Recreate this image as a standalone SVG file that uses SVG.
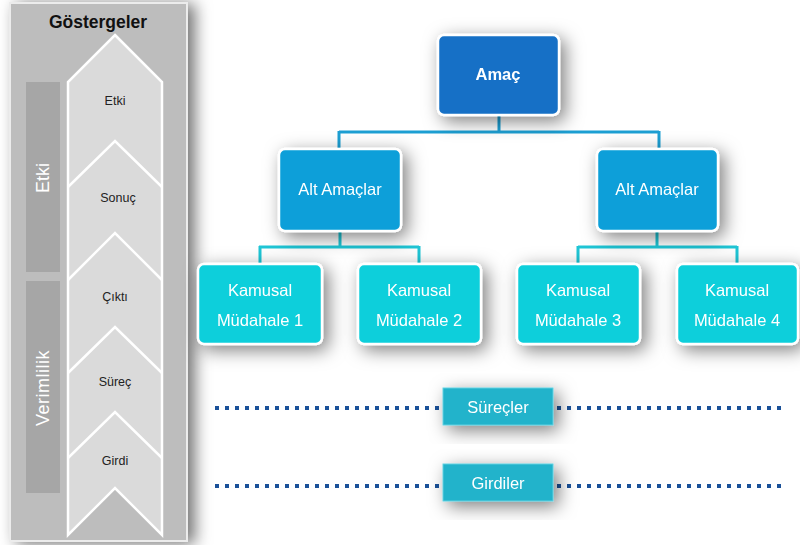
<svg xmlns="http://www.w3.org/2000/svg" width="800" height="545" viewBox="0 0 800 545">
<defs>
<filter id="sh" x="-40%" y="-40%" width="190%" height="190%">
<feDropShadow dx="5" dy="5" stdDeviation="9" flood-color="#000" flood-opacity="0.5"/>
</filter>
<filter id="psh" x="-20%" y="-5%" width="140%" height="110%">
<feDropShadow dx="7" dy="2" stdDeviation="8" flood-color="#000" flood-opacity="0.55"/>
</filter>
<style>
text{font-family:"Liberation Sans",Arial,sans-serif;}
.node rect{stroke:#fff;stroke-width:2.5;}
.lbl{fill:#fff;font-size:16.5px;text-anchor:middle;}
.chev{fill:#222;font-size:12.5px;text-anchor:middle;}
.dot{stroke:#1a5199;stroke-width:4;stroke-dasharray:4 6;fill:none;}
.c1{stroke:#1c9fd3;stroke-width:3;fill:none;}
.c2{stroke:#1ec6d6;stroke-width:3;fill:none;}
</style>
</defs>
<rect width="800" height="545" fill="#fff"/>
<g id="panel">
<rect x="10" y="3" width="177" height="538" fill="#bdbdbd" stroke="#ececec" stroke-width="2" filter="url(#psh)"/>
<text x="98" y="28" font-size="17.5" font-weight="bold" fill="#111" text-anchor="middle">Göstergeler</text>
<rect x="26" y="82" width="34" height="190" fill="#a6a6a6"/>
<rect x="26" y="281" width="34" height="212" fill="#a6a6a6"/>
<text transform="translate(49,178) rotate(-90)" font-size="18" fill="#fff" text-anchor="middle">Etki</text>
<text transform="translate(49,388) rotate(-90)" font-size="18" fill="#fff" text-anchor="middle" letter-spacing="0.5">Verimlilik</text>
<path d="M115,35 L162,82 L162,535 L115,488 L68,535 L68,82 Z" fill="#dadada" stroke="#fff" stroke-width="2.5" stroke-linejoin="miter"/>
<g stroke="#fff" stroke-width="2.5" fill="none">
<path d="M68,187 L115,141 L162,187"/>
<path d="M68,280 L115,233 L162,280"/>
<path d="M68,373 L115,327 L162,373"/>
<path d="M68,458 L115,412 L162,458"/>
</g>
<text class="chev" x="115" y="105">Etki</text>
<text class="chev" x="118" y="202">Sonuç</text>
<text class="chev" x="115" y="301">Çıktı</text>
<text class="chev" x="115" y="386">Süreç</text>
<text class="chev" x="115" y="465">Girdi</text>
</g>
<g id="connectors">
<path class="c1" d="M499,115 V132 M339,132 H659 M339,131 V149 M659,131 V149"/>
<path class="c2" d="M340,231 V247 M259,247 H419 M260,246 V264 M419,246 V264"/>
<path class="c2" d="M657,231 V247 M578,247 H737 M578,246 V264 M737,246 V264"/>
<path class="dot" d="M215,408 H440 M557,408 H785"/>
<path class="dot" d="M215,486 H440 M557,486 H785"/>
</g>
<g id="amac" class="node" filter="url(#sh)">
<rect x="438" y="35" width="121" height="80" rx="6" fill="#1470c6"/>
<text class="lbl" x="498" y="80" font-weight="bold" font-size="16">Amaç</text>
</g>
<g id="alt1" class="node" filter="url(#sh)">
<rect x="279" y="149" width="122" height="82" rx="6" fill="#079fd9"/>
<text class="lbl" x="340" y="195">Alt Amaçlar</text>
</g>
<g id="alt2" class="node" filter="url(#sh)">
<rect x="597" y="149" width="121" height="82" rx="6" fill="#079fd9"/>
<text class="lbl" x="657" y="195">Alt Amaçlar</text>
</g>
<g id="km1" class="node" filter="url(#sh)">
<rect x="198" y="264" width="124" height="80" rx="6" fill="#0fcfdb"/>
<text class="lbl" x="260" y="296">Kamusal</text>
<text class="lbl" x="260" y="326">Müdahale 1</text>
</g>
<g id="km2" class="node" filter="url(#sh)">
<rect x="358" y="264" width="123" height="80" rx="6" fill="#0fcfdb"/>
<text class="lbl" x="419" y="296">Kamusal</text>
<text class="lbl" x="419" y="326">Müdahale 2</text>
</g>
<g id="km3" class="node" filter="url(#sh)">
<rect x="517" y="264" width="123" height="80" rx="6" fill="#0fcfdb"/>
<text class="lbl" x="578" y="296">Kamusal</text>
<text class="lbl" x="578" y="326">Müdahale 3</text>
</g>
<g id="km4" class="node" filter="url(#sh)">
<rect x="677" y="264" width="121" height="80" rx="6" fill="#0fcfdb"/>
<text class="lbl" x="737" y="296">Kamusal</text>
<text class="lbl" x="737" y="326">Müdahale 4</text>
</g>
<g id="surecler" filter="url(#sh)">
<rect x="443" y="388" width="110" height="37" fill="#20b3cb" stroke="#5fd0e0" stroke-width="1"/>
<text class="lbl" x="498" y="413">Süreçler</text>
</g>
<g id="girdiler" filter="url(#sh)">
<rect x="443" y="464" width="110" height="37" fill="#20b3cb" stroke="#5fd0e0" stroke-width="1"/>
<text class="lbl" x="498" y="489">Girdiler</text>
</g>
</svg>
